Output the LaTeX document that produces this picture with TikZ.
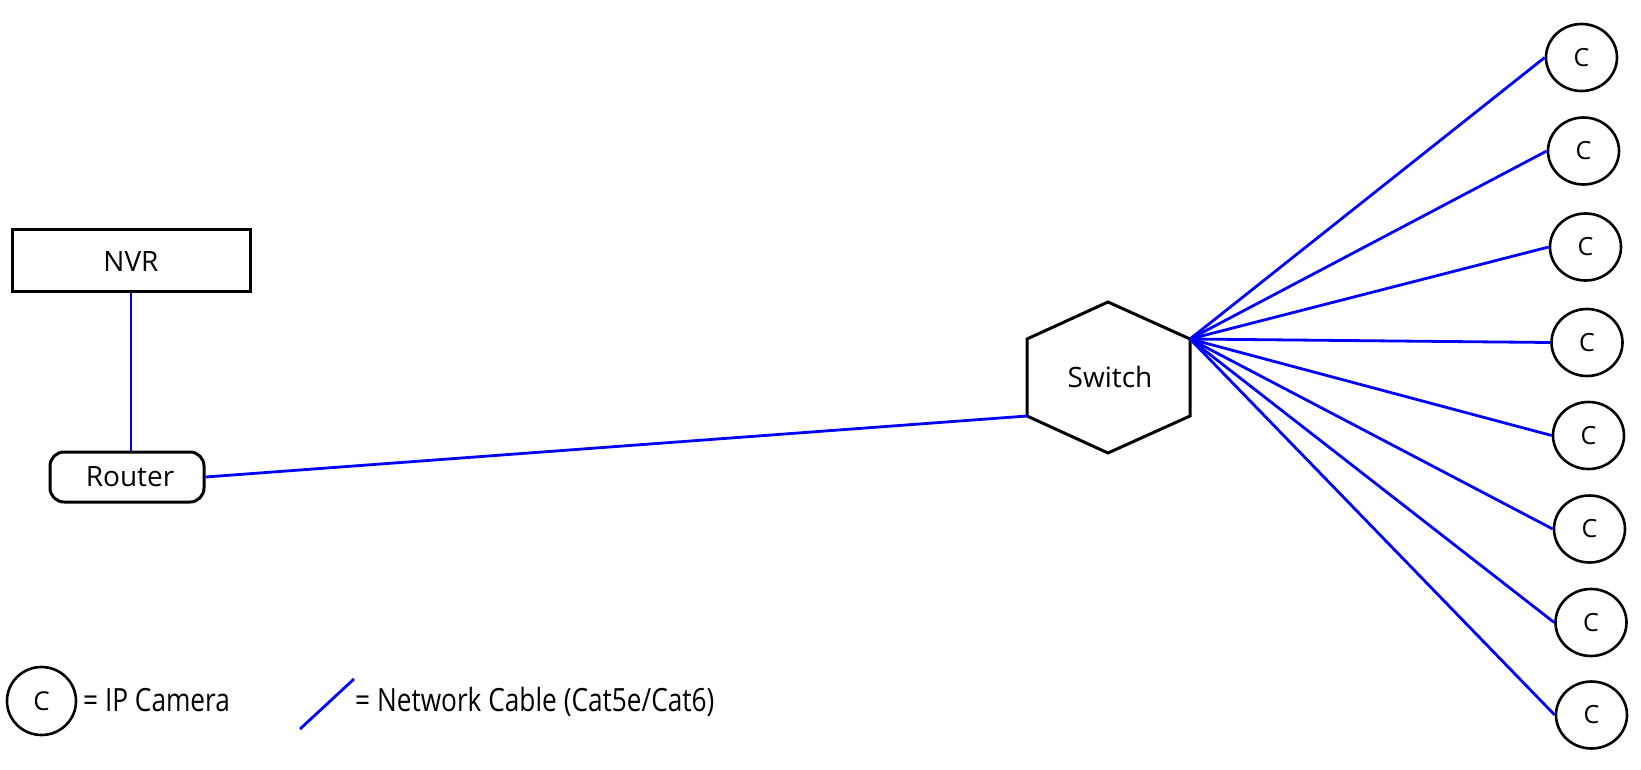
\documentclass[tikz,border=0pt]{standalone}
\usepackage{fontspec}
\setmainfont{Open Sans}
\usetikzlibrary{shapes.geometric}
\begin{document}
\begin{tikzpicture}[x=1pt,y=-1pt,
  box/.style={draw=black,line width=3pt,inner sep=0pt},
  lbl/.style={font=\fontsize{28}{34}\selectfont},
  cam/.style={draw=black,line width=2.6pt,ellipse,minimum width=71pt,minimum height=67pt,inner sep=0pt,font=\fontsize{25}{29}\selectfont},
  cable/.style={draw=blue,line width=2.8pt},
  hexline/.style={draw=black,line width=3pt,line join=miter}]
\useasboundingbox (0,0) rectangle (1641,770);
% NVR
\node[box,minimum width=238pt,minimum height=61pt] (nvr) at (131,260.5) {};
\node[lbl] (nvrt) at (131,262) {NVR};
% Router
\node[box,rounded corners=14pt,minimum width=154pt,minimum height=50pt] (router) at (127,477) {};
\node[lbl] (routert) at (130,477) {Router};
% Switch hexagon
\coordinate (swT) at (1108,302);
\coordinate (swUL) at (1027,339);
\coordinate (swLL) at (1027,416);
\coordinate (swB) at (1108,453);
\coordinate (swLR) at (1190,416);
\coordinate (swUR) at (1190,339);
\draw[hexline] (swT) -- (swUR) -- (swLR) -- (swB) -- (swLL) -- (swUL) -- cycle;
\node[lbl] (switch) at (1110,377) {Switch};
% Cameras
\node[cam] (c1) at (1581.5,57.5) {C};
\node[cam] (c2) at (1583.5,151) {C};
\node[cam] (c3) at (1585.5,247) {C};
\node[cam] (c4) at (1587,342.5) {C};
\node[cam] (c5) at (1588.5,435.5) {C};
\node[cam] (c6) at (1589.5,529) {C};
\node[cam] (c7) at (1591,622.5) {C};
\node[cam] (c8) at (1591.5,715) {C};
% Cables
\draw[cable] (nvr.south) -- (nvr.south |- router.north);
\draw[cable] (router.east) -- (swLL);
\foreach \i in {1,...,8}{\draw[cable] (swUR) -- (c\i.west);}
% Legend
\node[cam,minimum width=69pt,minimum height=68pt,font=\fontsize{26}{30}\selectfont] (lc) at (41.5,701) {C};
\node[anchor=west,inner sep=0pt,font=\fontsize{32}{36}\selectfont] (lct) at (83,700) {\scalebox{0.82}[1]{= IP Camera}};
\coordinate (la) at (300,729);
\coordinate (lb) at (354,679);
\draw[cable] (la) -- (lb);
\node[anchor=west,inner sep=0pt,font=\fontsize{32}{36}\selectfont] (llt) at (355,702) {\scalebox{0.82}[1]{= Network Cable (Cat5e/Cat6)}};
\end{tikzpicture}
\end{document}
